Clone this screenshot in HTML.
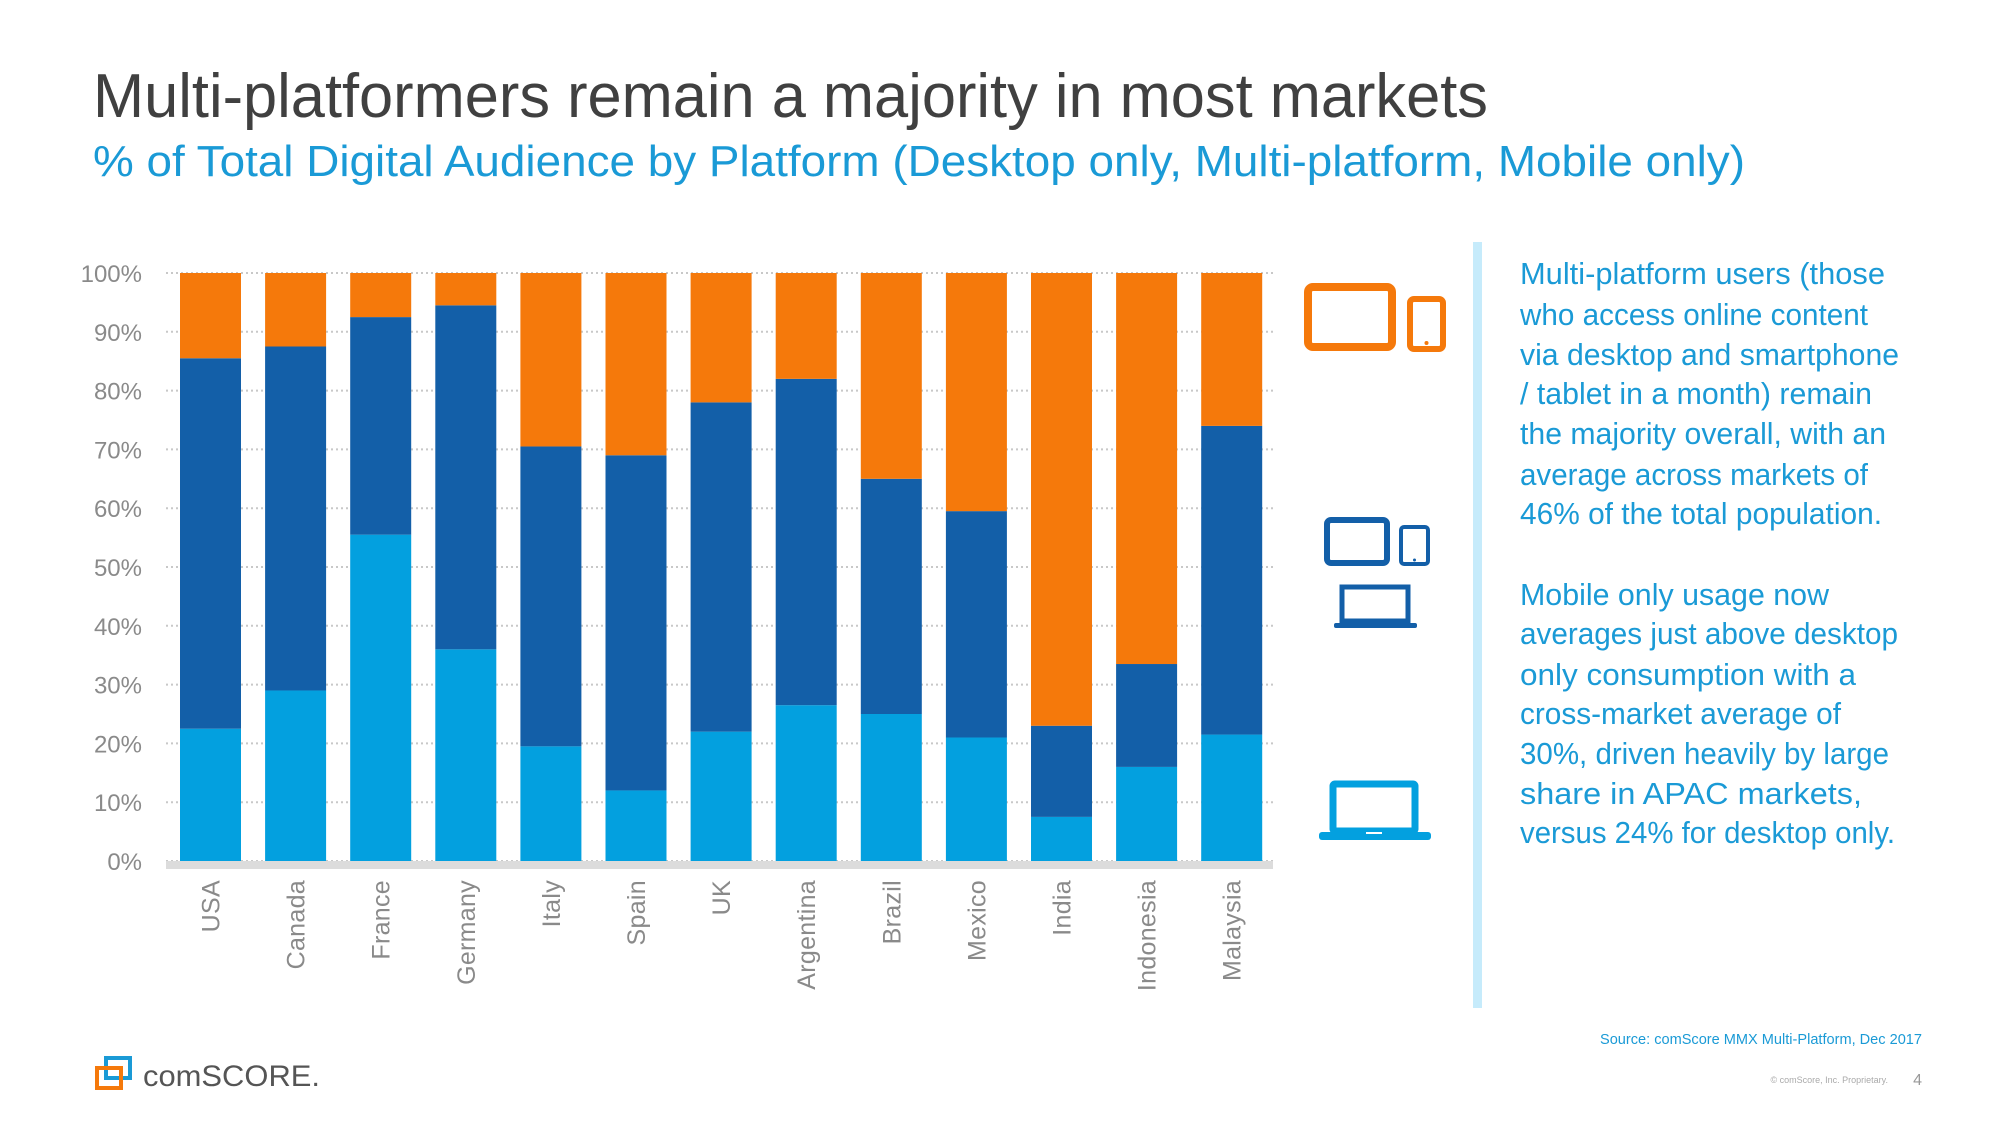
<!DOCTYPE html>
<html><head><meta charset="utf-8"><style>
html,body{margin:0;padding:0;background:#fff;}
svg{display:block;font-family:"Liberation Sans",sans-serif;}
</style></head><body>
<svg id="slide" width="2000" height="1125" viewBox="0 0 2000 1125">
<text x="93" y="117" font-size="62" fill="#404040" textLength="1395" lengthAdjust="spacingAndGlyphs">Multi-platformers remain a majority in most markets</text>
<text x="93" y="176" font-size="44" fill="#1a9ad6" textLength="1652" lengthAdjust="spacingAndGlyphs">% of Total Digital Audience by Platform (Desktop only, Multi-platform, Mobile only)</text>
<g id="chart"></g>
<rect x="1473" y="242" width="9" height="766" fill="#c6ebfb"/>
<g fill="none" stroke="#f5790b">
<rect x="1308" y="287" width="84" height="60" rx="5" stroke-width="8"/>
<rect x="1410" y="299" width="33" height="50" rx="4" stroke-width="6"/>
<circle cx="1426.5" cy="343" r="2" fill="#f5790b" stroke="none"/>
</g>
<g fill="none" stroke="#135fa8">
<rect x="1327" y="520" width="60" height="43" rx="4" stroke-width="6"/>
<rect x="1401" y="527" width="27" height="37" rx="3" stroke-width="4"/>
<circle cx="1414.5" cy="560" r="1.5" fill="#135fa8" stroke="none"/>
<rect x="1342" y="587" width="66" height="34" stroke-width="5"/>
<rect x="1334" y="623" width="83" height="5" rx="2" fill="#135fa8" stroke="none"/>
</g>
<g fill="none" stroke="#03a0df">
<rect x="1333" y="784" width="82" height="47" rx="2" stroke-width="7"/>
<rect x="1319" y="832" width="112" height="8" rx="3" fill="#03a0df" stroke="none"/>
<rect x="1366" y="832" width="16" height="2" fill="#fff" stroke="none"/>
</g>
<g font-size="31" fill="#1a9ad6">
<text x="1520" y="284" textLength="365" lengthAdjust="spacingAndGlyphs">Multi-platform users (those</text>
<text x="1520" y="325" textLength="348" lengthAdjust="spacingAndGlyphs">who access online content</text>
<text x="1520" y="365" textLength="379" lengthAdjust="spacingAndGlyphs">via desktop and smartphone</text>
<text x="1520" y="404" textLength="352" lengthAdjust="spacingAndGlyphs">/ tablet in a month) remain</text>
<text x="1520" y="444" textLength="366" lengthAdjust="spacingAndGlyphs">the majority overall, with an</text>
<text x="1520" y="485" textLength="348" lengthAdjust="spacingAndGlyphs">average across markets of</text>
<text x="1520" y="524" textLength="362" lengthAdjust="spacingAndGlyphs">46% of the total population.</text>
<text x="1520" y="605" textLength="309" lengthAdjust="spacingAndGlyphs">Mobile only usage now</text>
<text x="1520" y="644" textLength="378" lengthAdjust="spacingAndGlyphs">averages just above desktop</text>
<text x="1520" y="685" textLength="336" lengthAdjust="spacingAndGlyphs">only consumption with a</text>
<text x="1520" y="724" textLength="321" lengthAdjust="spacingAndGlyphs">cross-market average of</text>
<text x="1520" y="764" textLength="369" lengthAdjust="spacingAndGlyphs">30%, driven heavily by large</text>
<text x="1520" y="804" textLength="342" lengthAdjust="spacingAndGlyphs">share in APAC markets,</text>
<text x="1520" y="843" textLength="375" lengthAdjust="spacingAndGlyphs">versus 24% for desktop only.</text>
</g>
<text x="1922" y="1044" font-size="15" fill="#1a9ad6" text-anchor="end" textLength="322" lengthAdjust="spacingAndGlyphs">Source: comScore MMX Multi-Platform, Dec 2017</text>
<text x="1888" y="1083" font-size="9" fill="#aaa" text-anchor="end">© comScore, Inc. Proprietary.</text>
<text x="1922" y="1085" font-size="16" fill="#999" text-anchor="end">4</text>
<g>
<rect x="106" y="1058" width="24" height="20" fill="none" stroke="#1a9ad6" stroke-width="4"/>
<rect x="97" y="1068" width="24" height="20" fill="none" stroke="#f5790b" stroke-width="4"/>
<text x="143" y="1086" font-family="Liberation Sans,sans-serif" font-size="30" fill="#555" textLength="177" lengthAdjust="spacingAndGlyphs">comSCORE.</text>
</g>
</svg>
<script>
const categories=["USA","Canada","France","Germany","Italy","Spain","UK","Argentina","Brazil","Mexico","India","Indonesia","Malaysia"];
const desktopOnly=[22.5,29,55.5,36,19.5,12,22,26.5,25,21,7.5,16,21.5];
const multiPlatform=[63,58.5,37,58.5,51,57,56,55.5,40,38.5,15.5,17.5,52.5];
const mobileOnly=[14.5,12.5,7.5,5.5,29.5,31,22,18,35,40.5,77,66.5,26];
const yTicks=[0,10,20,30,40,50,60,70,80,90,100];
const NS="http://www.w3.org/2000/svg";
const g=document.getElementById('chart');
const y0=861,y1=273,xL=166,xR=1273,bx0=180,step=85.1,bw=61;
const yS=v=>y0-(v/100)*(y0-y1);
const xS=i=>bx0+i*step;
function mk(t,a){const e=document.createElementNS(NS,t);for(const k in a)e.setAttribute(k,a[k]);g.appendChild(e);return e;}
yTicks.forEach(t=>{
 const l=mk('line',{x1:xL,x2:xR,y1:yS(t),y2:yS(t),stroke:'#c8c8c8','stroke-width':2,'stroke-dasharray':'2,3'});
 
 
 const tx=mk('text',{x:142,y:yS(t)+9,'font-size':24,fill:'#8a8a8a','text-anchor':'end'});
 tx.textContent=t+'%';
 
 
});
const series=[[desktopOnly,'#03a0df','desktop-only'],[multiPlatform,'#135fa8','multi-platform'],[mobileOnly,'#f5790b','mobile-only']];
categories.forEach((c,i)=>{
 let base=0;
 series.forEach(([arr,col,nm])=>{
  const v=arr[i];
  const r=mk('rect',{x:xS(i),y:yS(base+v),width:bw,height:yS(base)-yS(base+v),fill:col});
  
  
  base+=v;
 });
 const tx=mk('text',{transform:`translate(${xS(i)+bw/2+9},880) rotate(-90)`,'font-size':25,fill:'#8a8a8a','text-anchor':'end','letter-spacing':0.3});
 tx.textContent=c;
 
 
});
const ax=mk('rect',{x:xL,y:y0,width:xR-xL,height:8,fill:'#dcdcdc'});


</script>
</body></html>
